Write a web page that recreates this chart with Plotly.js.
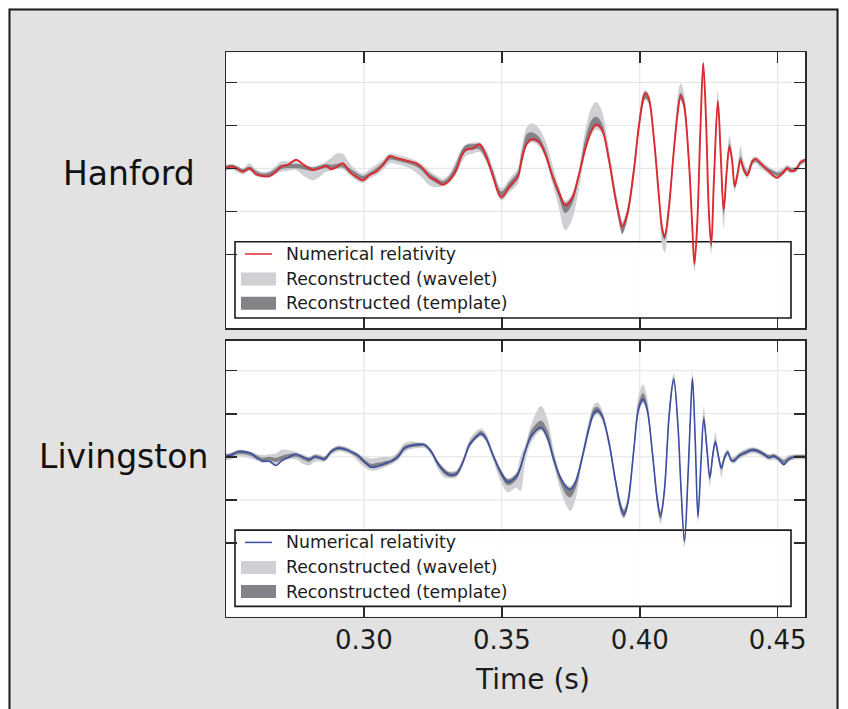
<!DOCTYPE html>
<html>
<head>
<meta charset="utf-8">
<script src="https://cdn.plot.ly/plotly-3.0.1.min.js"></script>
<style>
  html, body { margin: 0; padding: 0; background: #ffffff; }
  #chart { width: 848px; height: 709px; }
</style>
</head>
<body>
<div id="chart"></div>
<script>
// ---------------- DATA ----------------
const detectors = ["Hanford", "Livingston"];
const legendLabels = ["Numerical relativity", "Reconstructed (wavelet)", "Reconstructed (template)"];
const xTickVals = [0.30, 0.35, 0.40, 0.45];
const xTickText = ["0.30", "0.35", "0.40", "0.45"];
const yTickVals = [-1.0, -0.5, 0.0, 0.5, 1.0];
const xTitle = "Time (s)";

// Hanford
const hTime = [
0.2500,0.2524,0.2542,0.2561,0.2585,0.2609,0.2633,0.2657,0.2681,0.2700,
0.2724,0.2754,0.2778,0.2815,0.2839,0.2863,0.2881,0.2899,0.2923,0.2948,
0.2972,0.2996,0.3020,0.3044,0.3069,0.3093,0.3117,0.3141,0.3165,0.3189,
0.3214,0.3238,0.3262,0.3286,0.3310,0.3335,0.3353,0.3371,0.3395,0.3419,
0.3443,0.3468,0.3498,0.3528,0.3558,0.3567,0.3579,0.3591,0.3609,0.3633,
0.3658,0.3682,0.3706,0.3730,0.3754,0.3779,0.3803,0.3827,0.3843,0.3863,
0.3887,0.3912,0.3930,0.3936,0.3954,0.3978,0.3996,0.4015,0.4021,0.4033,
0.4051,0.4069,0.4081,0.4090,0.4105,0.4123,0.4138,0.4148,0.4160,0.4178,
0.4190,0.4198,0.4208,0.4220,0.4230,0.4240,0.4250,0.4259,0.4269,0.4283,
0.4293,0.4304,0.4315,0.4325,0.4335,0.4344,0.4356,0.4365,0.4377,0.4390,
0.4408,0.4420,0.4438,0.4462,0.4486,0.4498,0.4517,0.4535,0.4547,0.4565,
0.4583,0.4601];
const hNR = [
0.01,0.02,-0.01,-0.04,0.00,-0.07,-0.09,-0.09,-0.04,0.02,
0.04,0.10,0.05,-0.02,0.00,0.03,-0.01,0.01,0.06,-0.04,
-0.10,-0.14,-0.08,-0.04,0.04,0.14,0.12,0.10,0.08,0.06,
0.00,-0.10,-0.14,-0.19,-0.14,-0.02,0.14,0.22,0.23,0.28,
0.14,-0.10,-0.34,-0.21,-0.10,0.02,0.19,0.29,0.34,0.31,
0.16,-0.08,-0.27,-0.43,-0.35,-0.08,0.23,0.45,0.51,0.45,
0.12,-0.35,-0.62,-0.68,-0.54,-0.04,0.47,0.85,0.88,0.81,
0.35,-0.31,-0.70,-0.80,-0.47,0.19,0.66,0.85,0.74,0.08,
-0.66,-1.11,-0.66,0.47,1.22,0.58,-0.47,-0.89,-0.12,0.78,
0.19,-0.48,-0.04,0.25,0.08,-0.21,-0.04,0.10,-0.02,-0.08,
0.08,0.11,0.06,-0.02,-0.09,-0.11,-0.06,0.00,-0.03,-0.02,
0.07,0.10];
const hWavLo = [
-0.03,-0.02,-0.05,-0.07,-0.03,-0.09,-0.11,-0.11,-0.07,-0.04,
-0.03,-0.02,-0.08,-0.14,-0.10,-0.04,-0.03,-0.01,-0.01,-0.08,
-0.14,-0.17,-0.12,-0.08,-0.02,0.06,0.05,0.03,0.00,-0.05,
-0.12,-0.20,-0.22,-0.21,-0.17,-0.06,0.06,0.15,0.17,0.19,
0.08,-0.12,-0.37,-0.28,-0.18,-0.06,0.12,0.26,0.30,0.26,
0.12,-0.16,-0.45,-0.72,-0.60,-0.25,0.18,0.40,0.45,0.40,
0.05,-0.42,-0.72,-0.77,-0.62,-0.10,0.40,0.76,0.80,0.74,
0.32,-0.38,-0.90,-0.98,-0.65,0.12,0.60,0.78,0.68,0.00,
-0.78,-1.20,-0.80,0.38,1.15,0.50,-0.58,-1.00,-0.22,0.70,
0.10,-0.69,-0.12,0.20,0.02,-0.27,-0.09,0.06,-0.06,-0.12,
0.03,0.06,0.00,-0.06,-0.11,-0.12,-0.09,-0.04,-0.06,-0.05,
0.03,0.06];
const hWavHi = [
0.04,0.05,0.02,0.00,0.06,-0.01,-0.04,-0.03,0.03,0.08,
0.08,0.08,0.05,0.02,0.04,0.08,0.12,0.17,0.17,0.06,
-0.02,-0.06,-0.01,0.04,0.10,0.17,0.16,0.14,0.12,0.09,
0.04,-0.03,-0.08,-0.12,-0.06,0.10,0.22,0.28,0.30,0.30,
0.22,0.00,-0.23,-0.12,0.00,0.16,0.36,0.48,0.52,0.47,
0.32,0.06,-0.20,-0.38,-0.30,-0.02,0.45,0.72,0.77,0.66,
0.25,-0.25,-0.55,-0.62,-0.46,0.06,0.56,0.90,0.91,0.85,
0.45,-0.20,-0.65,-0.75,-0.42,0.30,0.85,0.99,0.88,0.20,
-0.58,-1.04,-0.58,0.55,1.26,0.68,-0.38,-0.82,-0.02,0.90,
0.30,-0.42,0.06,0.38,0.20,-0.14,0.06,0.26,0.08,0.00,
0.12,0.14,0.10,0.03,-0.02,-0.03,0.00,0.04,0.02,0.02,
0.10,0.12];
const hTplLo = [
-0.01,0.00,-0.02,-0.05,-0.02,-0.07,-0.09,-0.09,-0.05,-0.01,
0.00,0.00,-0.01,-0.03,-0.01,0.00,-0.01,0.00,0.01,-0.05,
-0.10,-0.13,-0.09,-0.04,0.02,0.10,0.09,0.07,0.05,0.02,
-0.04,-0.12,-0.17,-0.20,-0.15,-0.02,0.12,0.20,0.22,0.22,
0.10,-0.09,-0.33,-0.24,-0.12,-0.01,0.16,0.28,0.32,0.29,
0.14,-0.12,-0.33,-0.52,-0.42,-0.12,0.22,0.44,0.49,0.43,
0.09,-0.40,-0.70,-0.76,-0.60,-0.08,0.42,0.78,0.81,0.76,
0.33,-0.33,-0.76,-0.83,-0.52,0.16,0.62,0.80,0.70,0.03,
-0.72,-1.14,-0.72,0.43,1.18,0.54,-0.52,-0.93,-0.16,0.74,
0.15,-0.54,-0.07,0.22,0.05,-0.23,-0.06,0.07,-0.03,-0.09,
0.05,0.08,0.03,-0.03,-0.07,-0.09,-0.07,-0.02,-0.04,-0.03,
0.05,0.08];
const hTplHi = [
0.03,0.04,0.02,-0.01,0.02,-0.03,-0.06,-0.05,0.00,0.04,
0.05,0.05,0.04,0.01,0.03,0.05,0.04,0.05,0.06,0.00,
-0.05,-0.09,-0.05,0.00,0.07,0.15,0.13,0.11,0.09,0.06,
0.01,-0.06,-0.11,-0.15,-0.09,0.06,0.20,0.27,0.28,0.28,
0.18,-0.03,-0.27,-0.16,-0.04,0.10,0.28,0.40,0.42,0.37,
0.22,-0.03,-0.24,-0.40,-0.33,-0.05,0.35,0.57,0.60,0.52,
0.16,-0.31,-0.60,-0.66,-0.50,0.02,0.52,0.86,0.87,0.82,
0.40,-0.25,-0.67,-0.76,-0.44,0.24,0.72,0.88,0.80,0.12,
-0.62,-1.07,-0.62,0.51,1.23,0.62,-0.43,-0.86,-0.08,0.80,
0.23,-0.45,0.00,0.29,0.12,-0.17,0.00,0.14,0.03,-0.04,
0.10,0.12,0.07,0.01,-0.03,-0.05,-0.03,0.02,0.00,0.01,
0.08,0.11];

// Livingston
const lTime = [
0.2500,0.2518,0.2542,0.2567,0.2591,0.2615,0.2633,0.2657,0.2681,0.2700,
0.2724,0.2754,0.2778,0.2802,0.2821,0.2839,0.2857,0.2881,0.2905,0.2929,
0.2954,0.2978,0.3002,0.3026,0.3050,0.3075,0.3099,0.3123,0.3147,0.3171,
0.3195,0.3220,0.3244,0.3268,0.3292,0.3310,0.3335,0.3359,0.3383,0.3407,
0.3425,0.3443,0.3468,0.3498,0.3522,0.3552,0.3567,0.3585,0.3609,0.3642,
0.3664,0.3688,0.3712,0.3736,0.3748,0.3766,0.3791,0.3815,0.3833,0.3847,
0.3863,0.3887,0.3912,0.3930,0.3942,0.3956,0.3978,0.3996,0.4012,0.4026,
0.4045,0.4063,0.4075,0.4089,0.4107,0.4123,0.4138,0.4150,0.4162,0.4174,
0.4184,0.4191,0.4201,0.4211,0.4222,0.4232,0.4244,0.4254,0.4265,0.4274,
0.4286,0.4296,0.4307,0.4319,0.4331,0.4341,0.4359,0.4383,0.4407,0.4426,
0.4450,0.4468,0.4486,0.4504,0.4522,0.4540,0.4565,0.4601];
const lNR = [
0.01,0.02,0.06,0.06,0.04,-0.02,-0.05,-0.05,-0.10,-0.05,
-0.01,0.03,0.00,-0.03,0.00,-0.01,-0.03,0.06,0.10,0.09,
0.06,0.02,-0.06,-0.12,-0.11,-0.08,-0.05,0.00,0.10,0.13,
0.14,0.14,0.06,-0.08,-0.17,-0.21,-0.20,-0.06,0.14,0.23,
0.27,0.21,0.02,-0.19,-0.29,-0.23,-0.13,0.07,0.25,0.34,
0.23,-0.03,-0.24,-0.36,-0.38,-0.30,-0.01,0.32,0.50,0.54,
0.48,0.19,-0.28,-0.57,-0.67,-0.55,0.07,0.56,0.67,0.56,
0.07,-0.48,-0.69,-0.40,0.50,0.90,0.38,-0.40,-0.98,-0.28,
0.50,0.91,0.19,-0.69,-0.05,0.44,0.07,-0.24,0.03,0.17,
-0.01,-0.13,-0.01,0.05,-0.04,-0.05,0.01,0.05,0.08,0.07,
0.03,-0.01,0.01,-0.03,-0.09,-0.03,0.00,0.00];
const lWavLo = [
-0.04,-0.03,0.00,0.00,-0.02,-0.05,-0.07,-0.06,-0.10,-0.06,
-0.03,-0.03,-0.08,-0.10,-0.06,-0.05,-0.06,0.02,0.06,0.05,
0.02,-0.05,-0.12,-0.16,-0.15,-0.12,-0.09,-0.04,0.05,0.09,
0.10,0.10,0.02,-0.14,-0.24,-0.25,-0.24,-0.10,0.10,0.20,
0.23,0.17,-0.04,-0.30,-0.41,-0.36,-0.40,-0.05,0.18,0.30,
0.18,-0.10,-0.38,-0.58,-0.63,-0.50,-0.08,0.25,0.45,0.49,
0.42,0.12,-0.36,-0.66,-0.72,-0.60,0.00,0.50,0.62,0.50,
0.00,-0.60,-0.78,-0.48,0.42,0.84,0.30,-0.50,-1.05,-0.38,
0.40,0.84,0.10,-0.76,-0.14,0.36,0.00,-0.34,-0.04,0.12,
-0.06,-0.24,-0.06,0.01,-0.07,-0.08,-0.03,0.01,0.04,0.03,
-0.01,-0.04,-0.03,-0.06,-0.10,-0.06,-0.03,-0.03];
const lWavHi = [
0.04,0.05,0.08,0.08,0.06,0.03,0.02,0.03,0.04,0.08,
0.08,0.06,0.03,0.00,0.03,0.03,0.01,0.09,0.13,0.12,
0.09,0.04,0.00,-0.02,-0.01,0.00,0.00,0.06,0.16,0.18,
0.17,0.16,0.09,-0.04,-0.13,-0.17,-0.15,-0.01,0.20,0.30,
0.33,0.27,0.06,-0.15,-0.25,-0.18,0.00,0.14,0.40,0.59,
0.45,0.08,-0.20,-0.32,-0.34,-0.26,0.05,0.42,0.60,0.63,
0.55,0.24,-0.22,-0.50,-0.60,-0.45,0.14,0.72,0.84,0.70,
0.15,-0.42,-0.62,-0.30,0.62,0.97,0.48,-0.32,-0.90,-0.18,
0.60,0.98,0.30,-0.60,0.05,0.58,0.16,-0.18,0.10,0.28,
0.06,-0.08,0.04,0.09,0.01,0.00,0.05,0.09,0.11,0.10,
0.06,0.03,0.04,0.01,-0.02,0.02,0.03,0.03];
const lTplLo = [
-0.01,0.00,0.03,0.03,0.01,-0.03,-0.05,-0.04,-0.06,-0.04,
-0.02,0.00,-0.03,-0.06,-0.02,-0.03,-0.04,0.04,0.08,0.07,
0.04,-0.01,-0.08,-0.13,-0.12,-0.10,-0.07,-0.02,0.08,0.11,
0.12,0.12,0.04,-0.10,-0.20,-0.23,-0.22,-0.08,0.12,0.21,
0.25,0.19,-0.01,-0.23,-0.33,-0.27,-0.16,0.04,0.23,0.32,
0.21,-0.06,-0.30,-0.45,-0.47,-0.38,-0.04,0.29,0.48,0.51,
0.45,0.16,-0.32,-0.62,-0.70,-0.58,0.04,0.53,0.64,0.53,
0.04,-0.54,-0.72,-0.44,0.46,0.86,0.34,-0.44,-1.00,-0.32,
0.46,0.88,0.15,-0.72,-0.09,0.40,0.03,-0.27,0.00,0.15,
-0.03,-0.15,-0.03,0.03,-0.05,-0.06,-0.01,0.03,0.06,0.05,
0.01,-0.02,-0.01,-0.04,-0.08,-0.04,-0.01,-0.01];
const lTplHi = [
0.03,0.04,0.07,0.07,0.05,0.01,-0.01,0.00,-0.01,0.01,
0.03,0.04,0.01,-0.01,0.02,0.01,0.00,0.08,0.12,0.11,
0.07,0.03,-0.03,-0.08,-0.07,-0.05,-0.03,0.03,0.13,0.15,
0.16,0.15,0.08,-0.05,-0.14,-0.18,-0.17,-0.03,0.17,0.26,
0.30,0.24,0.04,-0.16,-0.26,-0.20,-0.09,0.10,0.32,0.42,
0.32,0.02,-0.22,-0.34,-0.36,-0.28,0.02,0.37,0.56,0.58,
0.51,0.21,-0.25,-0.53,-0.62,-0.50,0.10,0.63,0.74,0.62,
0.10,-0.45,-0.64,-0.35,0.55,0.92,0.42,-0.36,-0.94,-0.24,
0.54,0.93,0.24,-0.65,-0.01,0.48,0.11,-0.21,0.06,0.20,
0.02,-0.10,0.02,0.07,-0.02,-0.02,0.03,0.07,0.10,0.09,
0.05,0.02,0.03,0.00,-0.04,0.00,0.02,0.02];

// ---------------- STYLE / LAYOUT ----------------
const W = 848, H = 709;
const fx = x => x / W;
const fy = y => 1 - y / H;
const FONT = "DejaVu Sans, Liberation Sans, sans-serif";
const C_WAV = "#cfd0d3";
const C_TPL = "#838387";
const C_RED = "#dc2a30";
const C_BLUE = "#3b4ea3";
const INK = "#1c1c1c";
const AX = "#2a2a2a";
const GRID = "#e2e2e2";

const plotL = 226, plotR = 805.3;
const panels = [
  {top: 52.3, bottom: 328.0, xa: "x", ya: "y", color: C_RED, lw: 1.9,
   t: hTime, nr: hNR, wl: hWavLo, wh: hWavHi, tl: hTplLo, th: hTplHi,
   labelRight: 197, labelY: 173},
  {top: 340.7, bottom: 616.7, xa: "x2", ya: "y2", color: C_BLUE, lw: 1.6,
   t: lTime, nr: lNR, wl: lWavLo, wh: lWavHi, tl: lTplLo, th: lTplHi,
   labelRight: 210, labelY: 456}
];

const traces = [];
panels.forEach((p, i) => {
  const base = {type: "scatter", mode: "lines", xaxis: p.xa, yaxis: p.ya,
                hoverinfo: "skip", showlegend: false};
  const sp = {shape: "spline", smoothing: 1.0};
  traces.push(Object.assign({}, base, {x: p.t, y: p.wl, line: Object.assign({width: 0, color: C_WAV}, sp)}));
  traces.push(Object.assign({}, base, {x: p.t, y: p.wh, fill: "tonexty", fillcolor: C_WAV,
    name: detectors[i] + " " + legendLabels[1], line: Object.assign({width: 0, color: C_WAV}, sp)}));
  traces.push(Object.assign({}, base, {x: p.t, y: p.tl, line: Object.assign({width: 0, color: C_TPL}, sp)}));
  traces.push(Object.assign({}, base, {x: p.t, y: p.th, fill: "tonexty", fillcolor: C_TPL,
    name: detectors[i] + " " + legendLabels[2], line: Object.assign({width: 0, color: C_TPL}, sp)}));
  traces.push(Object.assign({}, base, {x: p.t, y: p.nr,
    name: detectors[i] + " " + legendLabels[0], line: Object.assign({width: p.lw, color: p.color}, sp)}));
});

function xAxis(anchor, showLabels) {
  return {
    domain: [fx(plotL), fx(plotR)], anchor: anchor, range: [0.25, 0.46],
    tickmode: "array", tickvals: xTickVals, ticktext: xTickText,
    ticks: "inside", ticklen: 11, tickwidth: 1.5, tickcolor: AX,
    mirror: "allticks", showline: true, linecolor: AX, linewidth: 1.5,
    showgrid: false, zeroline: false,
    showticklabels: showLabels,
    tickfont: {family: FONT, size: 26, color: INK}, fixedrange: true
  };
}
function yAxis(anchor, top, bottom) {
  return {
    domain: [fy(bottom), fy(top)], anchor: anchor, range: [-1.857, 1.349],
    tickmode: "array", tickvals: yTickVals,
    ticks: "inside", ticklen: 11, tickwidth: 1.5, tickcolor: AX,
    mirror: "allticks", showline: true, linecolor: AX, linewidth: 1.5,
    showgrid: false, zeroline: false,
    showticklabels: false, fixedrange: true
  };
}

const shapes = [
  // white margins around the grey frame
  {type: "rect", xref: "paper", yref: "paper", x0: 0, x1: 1, y0: fy(8.5), y1: 1, fillcolor: "#ffffff", line: {width: 0}, layer: "below"},
  {type: "rect", xref: "paper", yref: "paper", x0: 0, x1: fx(8.5), y0: 0, y1: 1, fillcolor: "#ffffff", line: {width: 0}, layer: "below"},
  {type: "rect", xref: "paper", yref: "paper", x0: fx(838.5), x1: 1, y0: 0, y1: 1, fillcolor: "#ffffff", line: {width: 0}, layer: "below"},
  // frame border
  {type: "rect", xref: "paper", yref: "paper", x0: fx(9.5), x1: fx(837.5), y0: -0.05, y1: fy(9.5), fillcolor: "rgba(0,0,0,0)", line: {width: 2, color: "#1a1a1a"}, layer: "below"}
];
const annotations = [];

const legTopOff = [12.3, 37.3, 61.5];
panels.forEach((p, i) => {
  const xd = p.xa + " domain", yd = p.ya + " domain";
  const ph = p.bottom - p.top, pw = plotR - plotL;
  // grid lines at the tick positions (drawn under the legend frame)
  xTickVals.forEach(v => shapes.push({type: "line", xref: p.xa, yref: yd, x0: v, x1: v, y0: 0, y1: 1,
    line: {width: 1, color: GRID}, layer: "below"}));
  yTickVals.forEach(v => shapes.push({type: "line", xref: xd, yref: p.ya, x0: 0, x1: 1, y0: v, y1: v,
    line: {width: 1, color: GRID}, layer: "below"}));
  const legTop = p.top + (241.7 - 52.3), legBot = p.top + (318.0 - 52.3);
  // legend frame (inside the subplot, under the traces)
  shapes.push({type: "rect", xref: xd, yref: yd,
    x0: (235 - plotL) / pw, x1: (791 - plotL) / pw,
    y0: (p.bottom - legBot) / ph, y1: (p.bottom - legTop) / ph,
    fillcolor: "rgba(255,255,255,0.82)", line: {width: 1.6, color: "#1a1a1a"}, layer: "below"});
  const ys = legTopOff.map(o => legTop + o);
  // legend symbols
  shapes.push({type: "line", xref: "paper", yref: "paper", x0: fx(245), x1: fx(272), y0: fy(ys[0]), y1: fy(ys[0]),
    line: {width: 1.5, color: p.color}, layer: "above"});
  shapes.push({type: "rect", xref: "paper", yref: "paper", x0: fx(241), x1: fx(276), y0: fy(ys[1] + 6.5), y1: fy(ys[1] - 6.5),
    fillcolor: C_WAV, line: {width: 0}, layer: "above"});
  shapes.push({type: "rect", xref: "paper", yref: "paper", x0: fx(241), x1: fx(276), y0: fy(ys[2] + 6.5), y1: fy(ys[2] - 6.5),
    fillcolor: C_TPL, line: {width: 0}, layer: "above"});
  legendLabels.forEach((lab, k) => {
    annotations.push({text: lab, xref: "paper", yref: "paper", x: fx(284), y: fy(ys[k]),
      xanchor: "left", yanchor: "middle", showarrow: false,
      font: {family: FONT, size: 17.3, color: INK}});
  });
  // detector label
  annotations.push({text: detectors[i], xref: "paper", yref: "paper", x: fx(p.labelRight), y: fy(p.labelY),
    xanchor: "right", yanchor: "middle", showarrow: false,
    font: {family: FONT, size: 33, color: "#111111"}});
});
annotations.push({text: xTitle, xref: "paper", yref: "paper", x: fx(532), y: fy(679),
  xanchor: "center", yanchor: "middle", showarrow: false,
  font: {family: FONT, size: 28, color: INK}});

const layout = {
  width: W, height: H, autosize: false,
  margin: {l: 0, r: 0, t: 0, b: 0, pad: 0},
  paper_bgcolor: "#e2e2e2", plot_bgcolor: "#ffffff",
  showlegend: false,
  xaxis: xAxis("y", false),
  yaxis: yAxis("x", panels[0].top, panels[0].bottom),
  xaxis2: xAxis("y2", true),
  yaxis2: yAxis("x2", panels[1].top, panels[1].bottom),
  shapes: shapes,
  annotations: annotations,
  font: {family: FONT, color: INK}
};

Plotly.newPlot("chart", traces, layout, {displayModeBar: false, staticPlot: true});
</script>
</body>
</html>
